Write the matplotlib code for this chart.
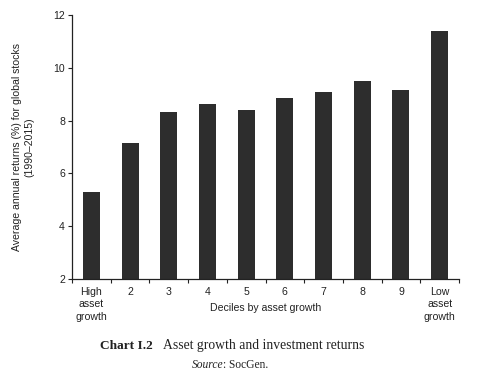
import matplotlib
matplotlib.use("Agg")
import matplotlib.pyplot as plt
import numpy as np

categories = ["High\nasset\ngrowth", "2", "3", "4", "5", "6", "7", "8", "9", "Low\nasset\ngrowth"]
returns = [5.31, 7.17, 8.31, 8.62, 8.39, 8.84, 9.07, 9.49, 9.15, 11.39]
yticks = [2, 4, 6, 8, 10, 12]

W, H = 499, 382
fig = plt.figure(figsize=(W / 100, H / 100), dpi=100)
L, R, T, B = 72, 459, 15, 279
ax = fig.add_axes([L / W, 1 - B / H, (R - L) / W, (B - T) / H])

txt = "#222222"
sans = "Liberation Sans"
fs = 7.6
x = np.arange(len(categories))
ax.bar(x, returns, width=0.44, color="#2d2d2d", zorder=2)
ax.set_ylim(2, 12)
ax.set_xlim(-0.5, len(categories) - 0.5)
ax.set_yticks(yticks)
ax.set_yticklabels([str(v) for v in yticks], fontsize=fs, family=sans, color=txt)
ax.set_xticks(x)
ax.set_xticklabels(categories, fontsize=fs, family=sans, color=txt, linespacing=1.27)
ax.set_xticks(np.arange(len(categories) + 1) - 0.5, minor=True)
ax.tick_params(axis="x", which="major", length=0, pad=6)
ax.tick_params(axis="x", which="minor", length=3, width=0.8, direction="out", color="#222222")
ax.tick_params(axis="y", length=3, width=0.8, direction="out", color="#222222", pad=2)
for s in ["top", "right"]:
    ax.spines[s].set_visible(False)
for s in ["left", "bottom"]:
    ax.spines[s].set_linewidth(0.9)
    ax.spines[s].set_color("#222222")

ax.text(0.5, -0.109, "Deciles by asset growth", transform=ax.transAxes, ha="center", va="center",
        fontsize=fs, family=sans, color=txt)
fig.text(23 / W, 1 - 147 / H, "Average annual returns (%) for global stocks\n(1990\u20132015)",
         rotation=90, ha="center", va="center", fontsize=fs, family=sans, color=txt, linespacing=1.3)

fig.text(100 / W, 1 - 346 / H, "Chart I.2", ha="left", va="center", fontsize=9.6,
         family="Liberation Serif", weight="bold", color=txt)
fig.text(163 / W, 1 - 346 / H, "Asset growth and investment returns", ha="left", va="center",
         fontsize=9.8, family="Liberation Serif", color=txt)
fig.text(192 / W, 1 - 365 / H, "Source", ha="left", va="center", fontsize=8.3,
         family="Liberation Serif", style="italic", color=txt)
fig.text(223 / W, 1 - 365 / H, ": SocGen.", ha="left", va="center", fontsize=8.3,
         family="Liberation Serif", color=txt)

fig.savefig("out.png", dpi=100)
